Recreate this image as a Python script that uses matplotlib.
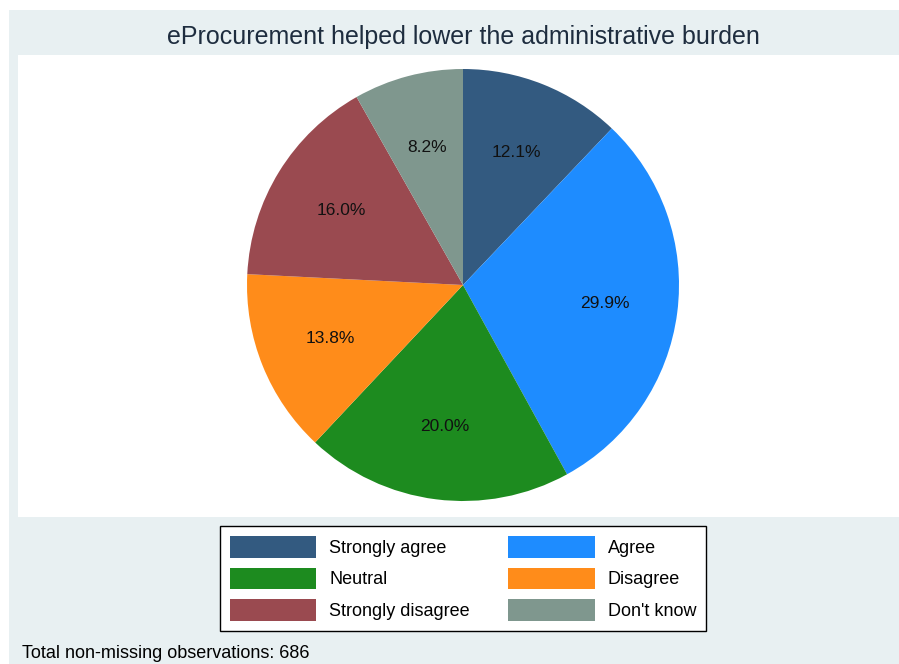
import matplotlib.pyplot as plt
from matplotlib.patches import Rectangle, Patch

plt.rcParams['font.family'] = ['Liberation Sans', 'DejaVu Sans']

# Data
categories = ["Strongly agree", "Agree", "Neutral", "Disagree",
              "Strongly disagree", "Don't know"]
shares = [12.1, 29.9, 20.0, 13.8, 16.0, 8.2]
colors = ["#335a80", "#1e8cff", "#1d8b1f", "#ff8c1a", "#9a4a50", "#7f978e"]
title = "eProcurement helped lower the administrative burden"
note = "Total non-missing observations: 686"

W, H = 899, 664
fig = plt.figure(figsize=(W / 100, H / 100), dpi=100)
fig.patch.set_facecolor("white")


def px_rect(x0, y0, x1, y1, color):
    # rectangle given in pixel coords (origin top-left)
    fig.patches.append(Rectangle((x0 / W, 1 - y1 / H), (x1 - x0) / W, (y1 - y0) / H,
                                 transform=fig.transFigure, facecolor=color,
                                 edgecolor="none", zorder=-10))


# outer graph region and inner plot region
px_rect(9, 10, W, H, "#e8f0f2")
px_rect(18, 55, W, 517, "white")

# pie axes: centre (463, 285), radius 216 px
cx, cy, r = 463, 285, 216
ax = fig.add_axes([(cx - r) / W, 1 - (cy + r) / H, 2 * r / W, 2 * r / H])
ax.set_zorder(5)
ax.patch.set_visible(False)
ax.pie(shares, colors=colors, startangle=90, counterclock=False,
       autopct="%.1f%%", pctdistance=0.66,
       textprops={"fontsize": 12.5, "color": "#111111"},
       wedgeprops={"linewidth": 0})
ax.set_xlim(-1, 1)
ax.set_ylim(-1, 1)
ax.set_axis_off()

fig.text(463 / W, 1 - 37 / H, title, ha="center", va="center",
         fontsize=18, color="#1e2d3f")

handles = [Patch(facecolor=c, edgecolor="none") for c in colors]
# two columns, rows are (SA, Agree), (Neutral, Disagree), (SD, DK)
order = [0, 2, 4, 1, 3, 5]
leg = fig.legend([handles[i] for i in order], [categories[i] for i in order],
                 ncol=2, loc="center",
                 bbox_to_anchor=((218 + 708) / 2 / W, 1 - (525 + 632) / 2 / H),
                 fontsize=13, frameon=True, fancybox=False, framealpha=1,
                 facecolor="white",
                 handlelength=4.8, handleheight=1.45, handletextpad=0.7,
                 columnspacing=2.15, labelspacing=0.55, borderpad=0.55)
leg.get_frame().set_edgecolor("black")
leg.get_frame().set_linewidth(1.0)

fig.text(22 / W, 1 - 653 / H, note, ha="left", va="center", fontsize=13,
         color="black")

fig.savefig("out.png", dpi=100)
